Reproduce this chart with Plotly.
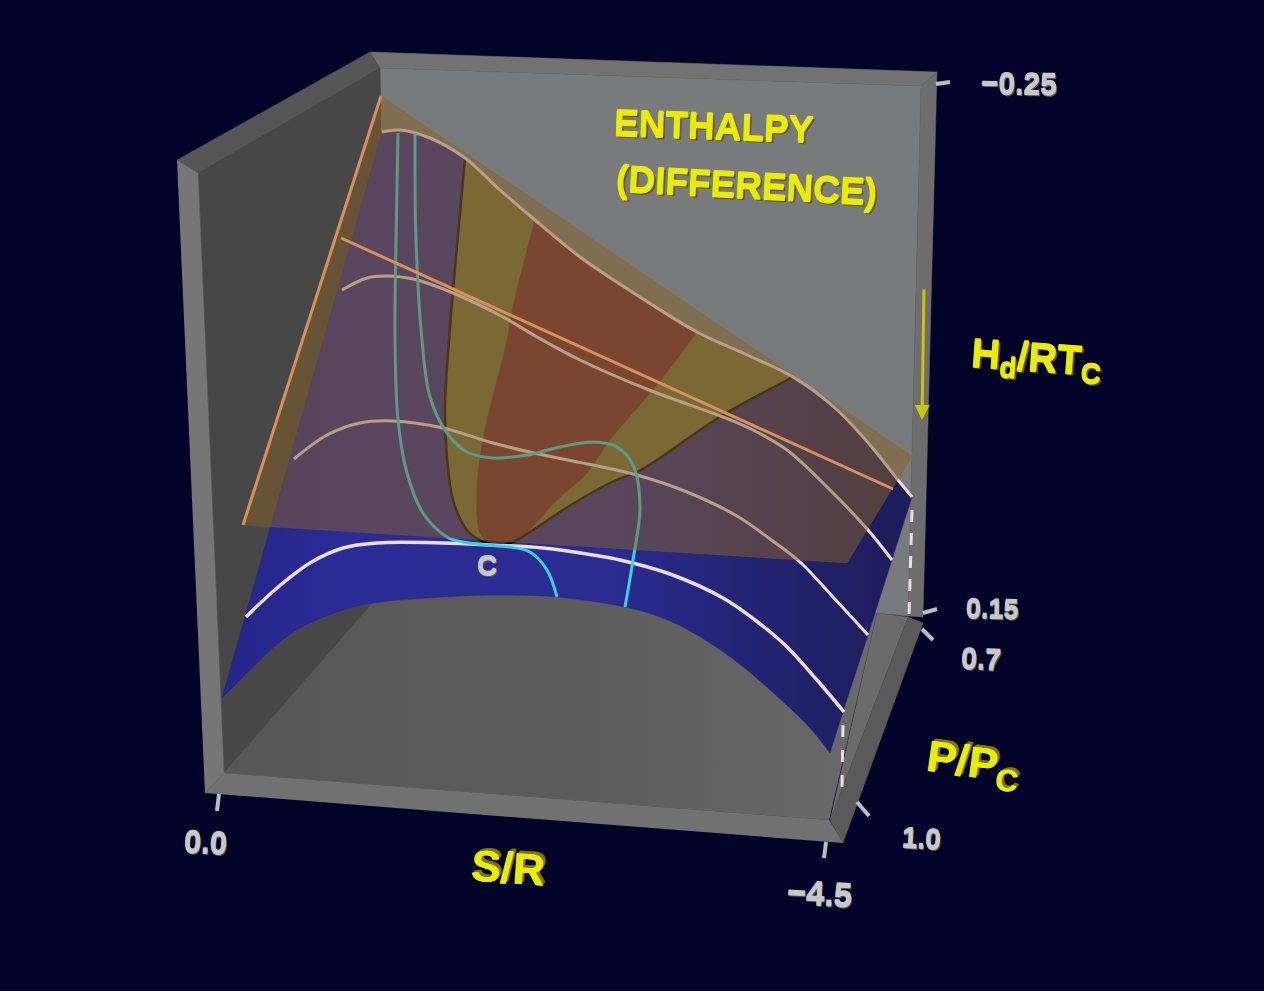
import plotly.graph_objects as go

# Outline of the enthalpy surface (projected coordinates)
back_edge_x = [382, 400, 430, 465, 500, 535, 580, 640, 697, 745, 793, 835, 870, 898, 912]
back_edge_y = [132, 130, 138, 158, 190, 220, 257, 297, 332, 354, 377, 408, 445, 480, 497]
right_edge_x = [892, 868, 843]
right_edge_y = [560, 635, 712]
front_edge_x = [222, 240, 260, 280, 300, 343, 373, 427, 493, 557, 625, 660, 690, 737, 780, 810, 830]
front_edge_y = [698, 680, 660, 642, 628, 610, 603, 598, 595, 597, 607, 617, 631, 662, 699, 728, 753]

# Isobars on the surface
isobar_a_x = [246, 277, 310, 343, 377, 443, 490, 543, 593, 620, 670, 723, 755, 785, 817, 844]
isobar_a_y = [617, 588, 563, 548, 543, 543, 545, 548, 555, 560, 574, 598, 620, 645, 680, 712]
isobar_b_x = [294, 327, 360, 393, 443, 493, 543, 593, 637, 687, 737, 770, 800, 833, 868]
isobar_b_y = [459, 435, 423, 421, 428, 443, 455, 465, 475, 492, 516, 539, 562, 597, 635]
isobar_c_x = [342, 367, 387, 417, 453, 503, 537, 580, 649, 723, 753, 787, 827, 868, 892]
isobar_c_y = [290, 278, 276, 280, 293, 317, 337, 360, 390, 417, 430, 450, 487, 530, 560]

# Two-phase dome curves
dome_a_x = [398, 396, 395, 398, 407, 423, 447, 463, 487, 510, 530, 547, 557]
dome_a_y = [133, 240, 340, 420, 473, 513, 537, 542, 545, 547, 552, 570, 597]
dome_b_x = [415, 416, 422, 430, 447, 467, 493, 527, 560, 593, 617, 633, 640, 633, 625]
dome_b_y = [133, 240, 340, 397, 433, 452, 458, 455, 447, 442, 447, 465, 507, 560, 607]

# Coloured regions
yellow_left_x = [465, 453, 449, 445, 447, 453, 467, 487, 510, 530, 563, 610, 637, 660, 690, 723, 793]
yellow_left_y = [158, 290, 340, 407, 457, 500, 530, 543, 543, 532, 510, 483, 472, 458, 437, 415, 377]
red_left_x = [535, 513, 507, 483, 477, 480, 490, 520, 557, 587, 610, 661, 697]
red_left_y = [220, 307, 340, 440, 490, 533, 543, 537, 500, 473, 440, 380, 332]
plane_x = [381, 912, 847, 243]
plane_y = [96, 456, 563, 525]
plane_line_x = [341, 893]
plane_line_y = [238, 489]
plane_edge_x = [381, 243]
plane_edge_y = [96, 525]

# Axis tick labels
z_labels = ["−0.25", "0.15"]
p_labels = ["0.7", "1.0"]
s_labels = ["0.0", "−4.5"]

BG = "#020328"
WHITE = "#ecdde4"
CYAN = "#35d3e4"

fig = go.Figure()


def poly(x, y, color, gradient=None, spline=False):
    kw = dict(fillgradient=gradient) if gradient else dict(fillcolor=color)
    fig.add_trace(go.Scatter(x=x, y=y, mode="lines", fill="toself",
                             line=dict(color=color, width=0.5, shape="spline" if spline else "linear",
                                       smoothing=1.0, simplify=False),
                             hoverinfo="skip", showlegend=False, **kw))


def curve(x, y, color, width=3, dash=None, shape="spline"):
    fig.add_trace(go.Scatter(x=x, y=y, mode="lines",
                             line=dict(color=color, width=width, shape=shape, dash=dash, smoothing=1.0),
                             hoverinfo="skip", showlegend=False))


def ends(v):
    """Repeat the end points so that the spline keeps a sharp corner there."""
    return [v[0]] + list(v) + [v[-1]]


floor_grad = dict(type="horizontal", start=224, stop=877,
                  colorscale=[[0, "#575757"], [0.55, "#5c5c5c"], [1, "#6a6a6a"]])
blue_grad = dict(type="horizontal", start=222, stop=912,
                 colorscale=[[0, "rgb(36,36,138)"], [0.2, "rgb(44,44,150)"], [0.55, "rgb(43,43,146)"],
                             [0.75, "rgb(36,36,118)"], [1, "rgb(28,28,88)"]])

# Box
poly([380, 921, 908, 877, 384], [68, 86, 616, 613, 590], "#787a7b")
poly([198, 380, 384, 224], [173, 68, 590, 773], "#474747")
poly([224, 384, 700, 877, 829], [773, 590, 590, 613, 820], "#646464", gradient=floor_grad)
poly([877, 908, 830], [613, 617, 820], "#6b6b6b")
poly([908, 923, 843, 830], [617, 623, 843, 820], "#5a5a5a")
poly([177, 370, 380, 198], [160, 52, 68, 173], "#565656")
poly([370, 937, 921, 380], [52, 72, 86, 68], "#727272")
poly([937, 923, 908, 921], [72, 617, 616, 86], "#6d6d6d")
poly([177, 198, 224, 205], [160, 173, 773, 793], "#767676")
poly([205, 224, 829, 843], [793, 773, 820, 843], "#717171")

# Surface
surface_x = ends(back_edge_x) + right_edge_x + ends(front_edge_x[::-1]) + [back_edge_x[0], back_edge_x[0]]
surface_y = ends(back_edge_y) + right_edge_y + ends(front_edge_y[::-1]) + [back_edge_y[0], back_edge_y[0]]
poly(surface_x, surface_y, "rgb(40,40,130)", gradient=blue_grad, spline=True)

# Regions on the surface
poly(ends(yellow_left_x) + ends(back_edge_x[9:3:-1]) + [465, 465],
     ends(yellow_left_y) + ends(back_edge_y[9:3:-1]) + [158, 158], "rgb(109,110,66)", spline=True)
poly(ends(red_left_x) + ends(back_edge_x[7:5:-1]) + [535, 535],
     ends(red_left_y) + ends(back_edge_y[7:5:-1]) + [220, 220], "rgb(109,42,56)", spline=True)
curve(yellow_left_x, yellow_left_y, "#0c0804", width=2.5)

# Lines on the surface
curve(back_edge_x, back_edge_y, WHITE)
curve(isobar_a_x, isobar_a_y, WHITE, width=3.5)
curve(isobar_b_x, isobar_b_y, WHITE)
curve(isobar_c_x, isobar_c_y, WHITE)
curve(dome_a_x, dome_a_y, CYAN)
curve(dome_b_x, dome_b_y, CYAN)

# Translucent plane
poly(plane_x + plane_x[:1], plane_y + plane_y[:1], "rgba(135,98,40,0.5)")
curve(plane_edge_x, plane_edge_y, "#d8915a", shape="linear")
curve(plane_line_x, plane_line_y, "#d8915a", shape="linear")

# Dashed verticals
curve([912, 909], [510, 617], WHITE, dash="12px,11px", shape="linear")
curve([843, 842], [725, 788], WHITE, dash="12px,13px", shape="linear")

# Ticks
for tx, ty in [([936, 950], [84, 82]), ([923, 937], [613, 609]), ([922, 933], [629, 640]),
               ([857, 869], [802, 816]), ([826, 824], [842, 858]), ([219, 217], [794, 811])]:
    curve(tx, ty, "#bdbdbd", width=4, shape="linear")

FONT = "Liberation Sans, Arial, sans-serif"


def label(text, x, y, size, color, angle=0, shadow=None):
    f = dict(family=FONT, size=size, color=color, weight="bold")
    if shadow:
        f["shadow"] = shadow
    fig.add_annotation(x=x, y=y, text=text, showarrow=False, textangle=angle, font=f,
                       xanchor="center", yanchor="middle")


YF = "#ecec00"
GF = "#c8c8c8"
GS = f"0 1px 0 {GF}, 0 -1px 0 {GF}, 1px 2px 0 #55555a"
DS = f"0 1px 0 {YF}, 0 -1px 0 {YF}, 2px 2px 0 #55550a"
YS = f"0.7px 0 0 {YF}, 1px -1px 0 #77770a, 2px -2px 0 #77770a, 3px -3px 0 #77770a"
label(z_labels[0], 1019, 83, 30, GF, 1, GS)
label(z_labels[1], 992, 609, 27, GF, 1, GS)
label(p_labels[0], 981, 659, 29, GF, 2, GS)
label(p_labels[1], 921, 838, 28, GF, 3, GS)
label(s_labels[0], 205, 842, 31, GF, 3, GS)
label(s_labels[1], 819, 893, 33, GF, 3, GS)
label("C", 487, 565, 28, GF, 0, GS)
label("ENTHALPY", 714, 126, 37, YF, 2, DS)
label("(DIFFERENCE)", 746, 185, 37, YF, 3, DS)
label("H<sub>d</sub>/RT<sub>C</sub>", 1036, 360, 40, YF, 4, DS)
label("P/P<sub>C</sub>", 972, 765, 44, YF, 8, YS)
label("S/R", 507, 867, 44, YF, 4, YS)

# Downward arrow beside the vertical axis
fig.add_annotation(x=922, y=420, ax=924, ay=288, xref="x", yref="y", axref="x", ayref="y",
                   text="", showarrow=True, arrowhead=2, arrowsize=1, arrowwidth=3, arrowcolor="#c8c800")

fig.update_layout(width=1264, height=991, margin=dict(l=0, r=0, t=0, b=0),
                  paper_bgcolor=BG, plot_bgcolor=BG, showlegend=False,
                  xaxis=dict(range=[0, 1264], visible=False, fixedrange=True),
                  yaxis=dict(range=[991, 0], visible=False, fixedrange=True))

fig.write_html("out.html", config={"displayModeBar": False},
               post_script="document.body.style.margin='0';document.body.style.background='#020328';document.body.style.overflow='hidden';")
